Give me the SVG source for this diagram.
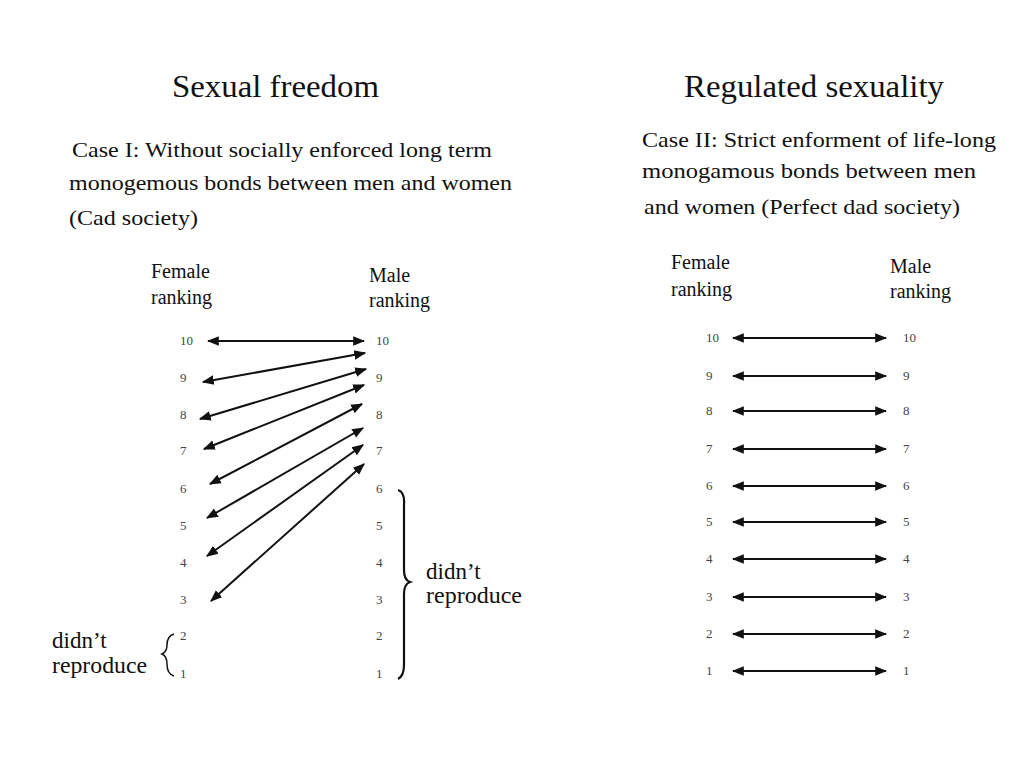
<svg xmlns="http://www.w3.org/2000/svg" width="1024" height="768" viewBox="0 0 1024 768">
<style>
text{font-family:"Liberation Serif",serif;fill:#111}
.t{font-size:32px}
.c{font-size:22px}
.h{font-size:20px}
.d{font-size:23px}
.n{font-size:13px;fill:#444}
.a{stroke:#111;stroke-width:2;fill:none;marker-start:url(#m);marker-end:url(#m)}
.b{stroke:#111;stroke-width:2.2;fill:none}
</style>
<defs>
<marker id="m" viewBox="0 0 10 10" refX="9" refY="5" markerWidth="6" markerHeight="6" orient="auto-start-reverse" markerUnits="strokeWidth">
<path d="M0,1 L10,5 L0,9 Z" fill="#111"/>
</marker>
</defs>
<rect width="1024" height="768" fill="#fff"/>
<g id="titles">
<text class="t" x="172" y="97" textLength="207" lengthAdjust="spacingAndGlyphs">Sexual freedom</text>
<text class="t" x="684" y="97" textLength="260" lengthAdjust="spacingAndGlyphs">Regulated sexuality</text>
<text class="c" x="72" y="157" textLength="420" lengthAdjust="spacingAndGlyphs">Case I: Without socially enforced long term</text>
<text class="c" x="69" y="190" textLength="443" lengthAdjust="spacingAndGlyphs">monogemous bonds between men and women</text>
<text class="c" x="69" y="225" textLength="129" lengthAdjust="spacingAndGlyphs">(Cad society)</text>
<text class="c" x="642" y="147" textLength="354" lengthAdjust="spacingAndGlyphs">Case II: Strict enforment of life-long</text>
<text class="c" x="642" y="178" textLength="334" lengthAdjust="spacingAndGlyphs">monogamous bonds between men</text>
<text class="c" x="644" y="214" textLength="316" lengthAdjust="spacingAndGlyphs">and women (Perfect dad society)</text>
<text class="h" x="151" y="278">Female</text><text class="h" x="151" y="304">ranking</text>
<text class="h" x="369" y="282">Male</text><text class="h" x="369" y="307">ranking</text>
<text class="h" x="671" y="269">Female</text><text class="h" x="671" y="296">ranking</text>
<text class="h" x="890" y="273">Male</text><text class="h" x="890" y="298">ranking</text>
</g>
<g id="left-numbers">
<text class="n" x="180" y="345">10</text><text class="n" x="180" y="382">9</text><text class="n" x="180" y="419">8</text><text class="n" x="180" y="455">7</text><text class="n" x="180" y="493">6</text><text class="n" x="180" y="530">5</text><text class="n" x="180" y="567">4</text><text class="n" x="180" y="604">3</text><text class="n" x="180" y="640">2</text><text class="n" x="180" y="678">1</text>
<text class="n" x="376" y="345">10</text><text class="n" x="376" y="382">9</text><text class="n" x="376" y="419">8</text><text class="n" x="376" y="455">7</text><text class="n" x="376" y="493">6</text><text class="n" x="376" y="530">5</text><text class="n" x="376" y="567">4</text><text class="n" x="376" y="604">3</text><text class="n" x="376" y="640">2</text><text class="n" x="376" y="678">1</text>
</g>
<g id="right-numbers">
<text class="n" x="706" y="342">10</text><text class="n" x="706" y="380">9</text><text class="n" x="706" y="415">8</text><text class="n" x="706" y="453">7</text><text class="n" x="706" y="490">6</text><text class="n" x="706" y="526">5</text><text class="n" x="706" y="563">4</text><text class="n" x="706" y="601">3</text><text class="n" x="706" y="638">2</text><text class="n" x="706" y="675">1</text>
<text class="n" x="903" y="342">10</text><text class="n" x="903" y="380">9</text><text class="n" x="903" y="415">8</text><text class="n" x="903" y="453">7</text><text class="n" x="903" y="490">6</text><text class="n" x="903" y="526">5</text><text class="n" x="903" y="563">4</text><text class="n" x="903" y="601">3</text><text class="n" x="903" y="638">2</text><text class="n" x="903" y="675">1</text>
</g>
<g id="connectors">
<line class="a" x1="208" y1="341" x2="364" y2="341"/>
<line class="a" x1="203" y1="382" x2="365" y2="353"/>
<line class="a" x1="200" y1="419" x2="366" y2="369"/>
<line class="a" x1="204" y1="449" x2="364" y2="385"/>
<line class="a" x1="210" y1="484" x2="362" y2="404"/>
<line class="a" x1="207" y1="518" x2="363" y2="428"/>
<line class="a" x1="207" y1="556" x2="363" y2="445"/>
<line class="a" x1="211" y1="601" x2="364" y2="464"/>
<line class="a" x1="733" y1="338" x2="886" y2="338"/>
<line class="a" x1="733" y1="376" x2="886" y2="376"/>
<line class="a" x1="733" y1="411" x2="886" y2="411"/>
<line class="a" x1="733" y1="449" x2="886" y2="449"/>
<line class="a" x1="733" y1="486" x2="886" y2="486"/>
<line class="a" x1="733" y1="522" x2="886" y2="522"/>
<line class="a" x1="733" y1="559" x2="886" y2="559"/>
<line class="a" x1="733" y1="597" x2="886" y2="597"/>
<line class="a" x1="733" y1="634" x2="886" y2="634"/>
<line class="a" x1="733" y1="671" x2="886" y2="671"/>
</g>
<g id="braces">
<path class="b" d="M398,490 Q405,492 404,505 L404,570 Q404,580 410,582 Q404,584 404,594 L404,665 Q404,676 398,679"/>
<path class="b" d="M174,634 Q167,636 167,645 Q167,652 162,654 Q167,656 167,664 Q167,674 174,676" style="stroke-width:1.5"/>
<text class="d" x="426" y="579">didn’t</text><text class="d" x="426" y="603" textLength="96" lengthAdjust="spacingAndGlyphs">reproduce</text>
<text class="d" x="52" y="648">didn’t</text><text class="d" x="52" y="673" textLength="95" lengthAdjust="spacingAndGlyphs">reproduce</text>
</g>
</svg>
